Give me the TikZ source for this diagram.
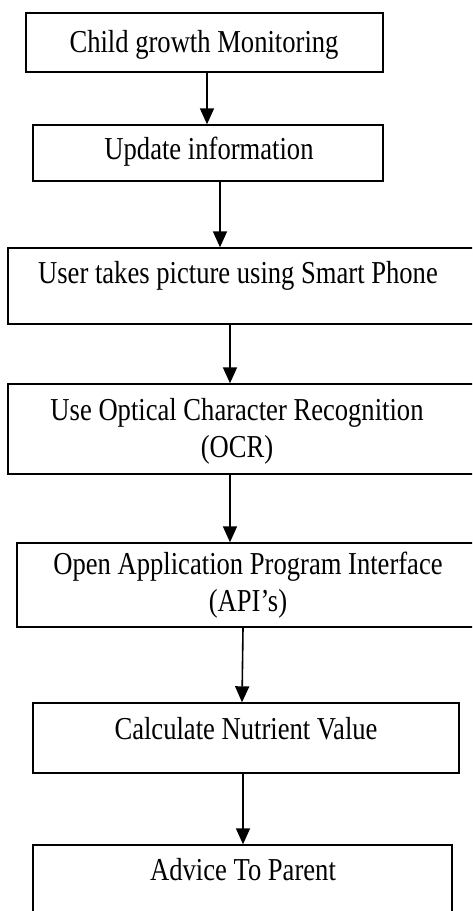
\documentclass[tikz,border=0pt]{standalone}
\usepackage{fontspec}
\setmainfont{Liberation Serif}
\usetikzlibrary{arrows.meta}
\begin{document}
\begin{tikzpicture}[x=1pt,y=1pt,
  box/.style={draw=black, line width=1.4pt, rectangle, inner sep=0pt},
  lbl/.style={font=\fontsize{26.6}{30.8}\selectfont, align=center, anchor=base, inner sep=0pt, yscale=1.2},
  arr/.style={draw=black, line width=1.6pt, -{Triangle[width=14pt,length=16pt]}}]
\useasboundingbox (0,0) rectangle (472,-911);
\begin{scope}
\clip (0,0) rectangle (472,-911);
% boxes
\node[box, minimum width=357pt, minimum height=59pt] (b1) at (204.5,-42.5) {};
\node[box, minimum width=350pt, minimum height=56pt] (b2) at (208,-153) {};
\node[box, minimum width=472pt, minimum height=76pt] (b3) at (244,-286) {};
\node[box, minimum width=472pt, minimum height=90pt] (b4) at (244,-429) {};
\node[box, minimum width=463pt, minimum height=84pt] (b5) at (248.5,-585) {};
\node[box, minimum width=426pt, minimum height=70pt] (b6) at (246,-738) {};
\node[box, minimum width=419pt, minimum height=85pt] (b7) at (242.5,-887.5) {};
\end{scope}
% labels (base anchor = baseline of the last line)
\node[lbl] (t1) at (204,-52) {Child growth Monitoring};
\node[lbl] (t2) at (209,-159) {Update information};
\node[lbl] (t3) at (238,-283) {User takes picture using Smart Phone};
\node[lbl] (t4) at (237,-457) {Use Optical Character Recognition\\(OCR)};
\node[lbl] (t5) at (248,-611) {Open Application Program Interface\\(API’s)};
\node[lbl] (t6) at (246,-739) {Calculate Nutrient Value};
\node[lbl] (t7) at (243,-880) {Advice To Parent};
% arrow columns
\coordinate (c1) at (207,0);
\coordinate (c2) at (220,0);
\coordinate (c3) at (230,0);
\coordinate (c4) at (230,0);
\coordinate (c5a) at (243,0);
\coordinate (c5b) at (242,0);
\coordinate (c6) at (243,0);
% connectors
\draw[arr] (b1.south -| c1) -- (b2.north -| c1);
\draw[arr] (b2.south -| c2) -- (b3.north -| c2);
\draw[arr] (b3.south -| c3) -- (b4.north -| c3);
\draw[arr] (b4.south -| c4) -- (b5.north -| c4);
\draw[arr] (b5.south -| c5a) -- (b6.north -| c5b);
\draw[arr] (b6.south -| c6) -- (b7.north -| c6);
\end{tikzpicture}
\end{document}
